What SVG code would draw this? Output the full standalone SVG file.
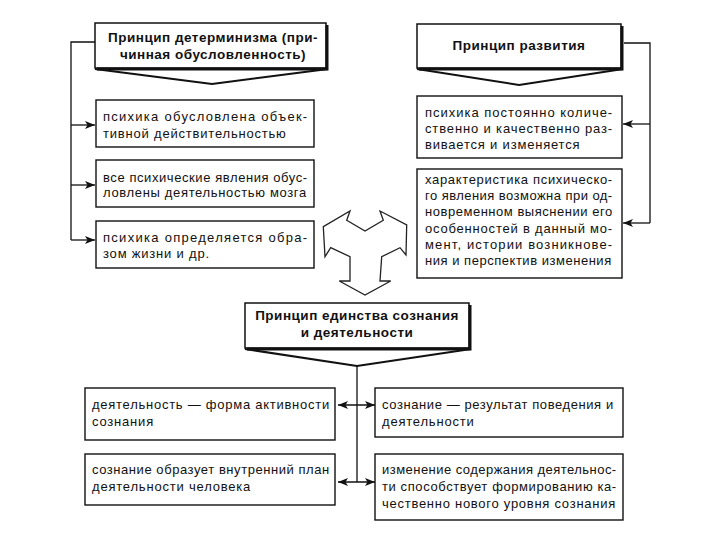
<svg xmlns="http://www.w3.org/2000/svg" width="720" height="540" viewBox="0 0 720 540">
<style>
.bg{fill:#ffffff}
.box{fill:#ffffff;stroke:#111;stroke-width:1.4}
.hbox{fill:#ffffff;stroke:#111;stroke-width:1.5}
.shadow{fill:none;stroke:#111;stroke-width:3}
.chev{fill:none;stroke:#111;stroke-width:2}
.t{font-family:"Liberation Sans",Arial,sans-serif;font-size:13px;fill:#111;letter-spacing:0.8px}
.h{font-family:"Liberation Sans",Arial,sans-serif;font-size:13.5px;font-weight:bold;fill:#111;letter-spacing:0.5px;text-anchor:middle}
.c{fill:none;stroke:#111;stroke-width:1.3}
.tri{fill:#ffffff;stroke:#222;stroke-width:1.3;stroke-linejoin:miter}
</style>
<defs>
<marker id="ah" markerUnits="userSpaceOnUse" markerWidth="10" markerHeight="8" refX="10" refY="4" orient="auto-start-reverse" viewBox="0 0 10 8">
<path d="M0,0 L10,4 L0,8 L2.5,4 z" fill="#111"/>
</marker>
</defs>
<rect class="bg" x="0" y="0" width="720" height="540"/>

<g id="connectors">
<path class="c" d="M95,42 H71 V240"/>
<path class="c" d="M71,125 H95" marker-end="url(#ah)"/>
<path class="c" d="M71,185 H95" marker-end="url(#ah)"/>
<path class="c" d="M71,240 H95" marker-end="url(#ah)"/>
<path class="c" d="M624,43 H650 V223"/>
<path class="c" d="M650,124 H623" marker-end="url(#ah)"/>
<path class="c" d="M650,223 H623" marker-end="url(#ah)"/>
<path class="c" d="M357,366 V482"/>
<path class="c" d="M338,405 H375" marker-start="url(#ah)" marker-end="url(#ah)"/>
<path class="c" d="M338,482 H375" marker-start="url(#ah)" marker-end="url(#ah)"/>
</g>

<g id="determinism">
<rect class="hbox" x="95" y="23" width="231" height="45"/>
<polyline class="shadow" points="97,69 327,69 327,25"/>
<polyline class="chev" points="95,69 212,84 328,69"/>
<text class="h" x="213" y="42">Принцип детерминизма (при-</text>
<text class="h" x="213" y="59">чинная обусловленность)</text>
</g>

<g id="development">
<rect class="hbox" x="417" y="24" width="204" height="44"/>
<polyline class="shadow" points="419,69 622,69 622,26"/>
<polyline class="chev" points="417,69 519,85 623,69"/>
<text class="h" x="519" y="50">Принцип развития</text>
</g>

<g id="det1">
<rect class="box" x="96" y="100" width="218" height="47"/>
<text class="t" x="103" y="121" textLength="205" lengthAdjust="spacing">психика обусловлена объек-</text>
<text class="t" x="103" y="138">тивной действительностью</text>
</g>
<g id="det2">
<rect class="box" x="96" y="160" width="218" height="47"/>
<text class="t" x="103" y="182" textLength="205" lengthAdjust="spacing">все психические явления обус-</text>
<text class="t" x="103" y="197" textLength="204" lengthAdjust="spacing">ловлены деятельностью мозга</text>
</g>
<g id="det3">
<rect class="box" x="96" y="221" width="218" height="47"/>
<text class="t" x="103" y="242" textLength="205" lengthAdjust="spacing">психика определяется обра-</text>
<text class="t" x="103" y="258">зом жизни и др.</text>
</g>

<g id="dev1">
<rect class="box" x="417" y="96" width="205" height="62"/>
<text class="t" x="425" y="117" textLength="188" lengthAdjust="spacing">психика постоянно количе-</text>
<text class="t" x="425" y="133" textLength="188" lengthAdjust="spacing">ственно и качественно раз-</text>
<text class="t" x="425" y="149">вивается и изменяется</text>
</g>
<g id="dev2">
<rect class="box" x="417" y="169" width="205" height="109"/>
<text class="t" x="425" y="184" textLength="188" lengthAdjust="spacing">характеристика психическо-</text>
<text class="t" x="425" y="200" textLength="188" lengthAdjust="spacing">го явления возможна при од-</text>
<text class="t" x="425" y="216" textLength="188" lengthAdjust="spacing">новременном выяснении его</text>
<text class="t" x="425" y="233" textLength="188" lengthAdjust="spacing">особенностей в данный мо-</text>
<text class="t" x="425" y="249" textLength="188" lengthAdjust="spacing">мент, истории возникнове-</text>
<text class="t" x="425" y="265" textLength="187" lengthAdjust="spacing">ния и перспектив изменения</text>
</g>

<g id="triad">
<polygon class="tri" points="350,211 346.7,220.3 365,231 383.3,220.3 380,211 406.7,225 406,255 400,247.7 381.7,256.7 380,281 390.7,281 365,295 339.3,281 350,281 350,256.7 330.7,247.7 325,256.7 323.3,226.7"/>
</g>

<g id="unity">
<rect class="hbox" x="245" y="303" width="224" height="45"/>
<polyline class="shadow" points="247,349 470,349 470,305"/>
<polyline class="chev" points="245,349 357,366 471,349"/>
<text class="h" x="357" y="320">Принцип единства сознания</text>
<text class="h" x="357" y="337">и деятельности</text>
</g>

<g id="u1">
<rect class="box" x="85" y="388" width="250" height="52"/>
<text class="t" x="92" y="409" textLength="238" lengthAdjust="spacing">деятельность — форма активности</text>
<text class="t" x="92" y="426">сознания</text>
</g>
<g id="u2">
<rect class="box" x="375" y="388" width="248" height="49"/>
<text class="t" x="382" y="409" textLength="232" lengthAdjust="spacing">сознание — результат поведения и</text>
<text class="t" x="382" y="426">деятельности</text>
</g>
<g id="u3">
<rect class="box" x="85" y="454" width="250" height="51"/>
<text class="t" x="92" y="474" textLength="238" lengthAdjust="spacing">сознание образует внутренний план</text>
<text class="t" x="92" y="491">деятельности человека</text>
</g>
<g id="u4">
<rect class="box" x="375" y="454" width="248" height="66"/>
<text class="t" x="382" y="474" textLength="235" lengthAdjust="spacing">изменение содержания деятельнос-</text>
<text class="t" x="382" y="491" textLength="235" lengthAdjust="spacing">ти способствует формированию ка-</text>
<text class="t" x="382" y="508" textLength="234" lengthAdjust="spacing">чественно нового уровня сознания</text>
</g>
</svg>
